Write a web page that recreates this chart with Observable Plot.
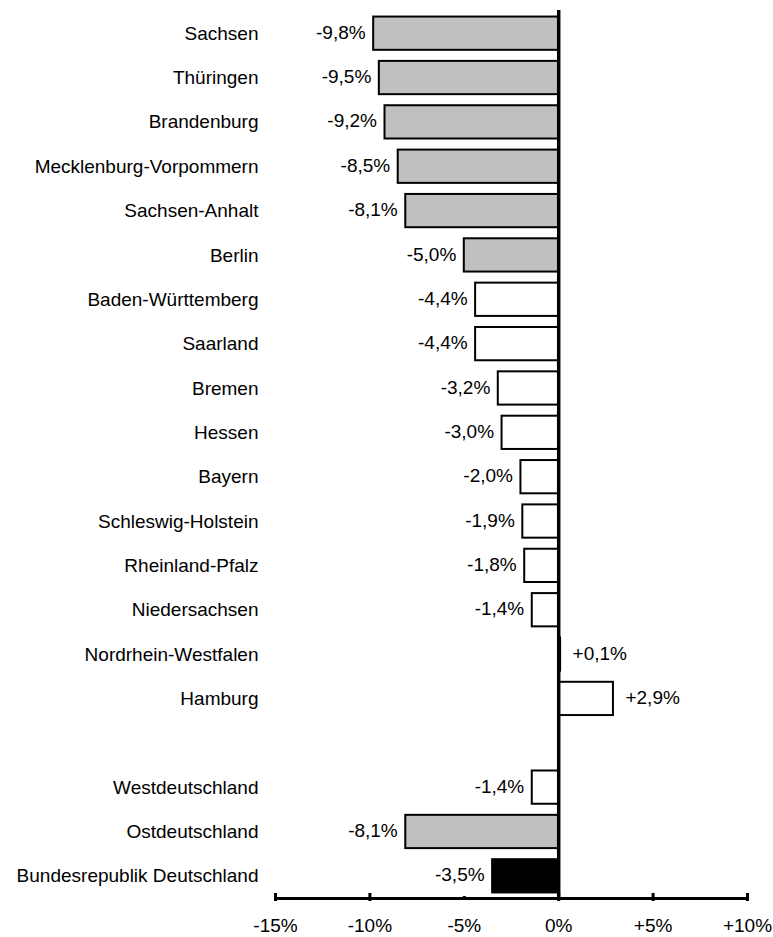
<!DOCTYPE html>
<html>
<head>
<meta charset="utf-8">
<script src="https://cdn.jsdelivr.net/npm/d3@7"></script>
<script src="https://cdn.jsdelivr.net/npm/@observablehq/plot@0.6"></script>
<style>
  html, body { margin: 0; padding: 0; background: #fff; }
  svg { display: block; }
</style>
</head>
<body>
<div id="chart"></div>
<script>
const regions = ["Sachsen", "Thüringen", "Brandenburg", "Mecklenburg-Vorpommern", "Sachsen-Anhalt", "Berlin",
  "Baden-Württemberg", "Saarland", "Bremen", "Hessen", "Bayern", "Schleswig-Holstein", "Rheinland-Pfalz",
  "Niedersachsen", "Nordrhein-Westfalen", "Hamburg", "", "Westdeutschland", "Ostdeutschland", "Bundesrepublik Deutschland"];
const values = [-9.8, -9.5, -9.2, -8.5, -8.1, -5.0, -4.4, -4.4, -3.2, -3.0, -2.0, -1.9, -1.8, -1.4, 0.1, 2.9, null, -1.4, -8.1, -3.5];
const groups = ["Ost", "Ost", "Ost", "Ost", "Ost", "Ost", "West", "West", "West", "West", "West", "West", "West",
  "West", "West", "West", null, "West", "Ost", "Bund"];
const tickValues = [-15, -10, -5, 0, 5, 10];
const tickLabels = ["-15%", "-10%", "-5%", "0%", "+5%", "+10%"];

const GAP = " ";
const domain = regions.map(r => r === "" ? GAP : r);
const data = regions.map((r, i) => ({name: domain[i], value: values[i], group: groups[i]}))
  .filter(d => d.value != null);
const neg = data.filter(d => d.value < 0);
const pos = data.filter(d => d.value >= 0);
const fmt = v => (v > 0 ? "+" : "") + v.toFixed(1).replace(".", ",") + "%";
const font = "'Liberation Sans', Arial, Helvetica, sans-serif";

const chart = Plot.plot({
  width: 773,
  height: 937,
  marginLeft: 275,
  marginRight: 26,
  marginTop: 11,
  marginBottom: 39,
  style: {fontFamily: font, fontSize: "19px", color: "#000", background: "#fff"},
  x: {domain: [-15, 10], label: null},
  y: {domain, paddingInner: 0.25, paddingOuter: 0.125, round: false, label: null},
  color: {domain: ["Ost", "West", "Bund"], range: ["#c0c0c0", "#ffffff", "#000000"]},
  marks: [
    Plot.barX(data, {x: "value", y: "name", fill: "group", stroke: "#000", strokeWidth: 2}),
    Plot.text(neg, {x: "value", y: "name", text: d => fmt(d.value), textAnchor: "end", dx: -8, dy: -1, fill: "#000", fontSize: 19}),
    Plot.text(pos, {x: "value", y: "name", text: d => fmt(d.value), textAnchor: "start", dx: 12, dy: -1, fill: "#000", fontSize: 19}),
    Plot.ruleX([0], {stroke: "#000", strokeWidth: 3.5, insetTop: -1}),
    Plot.frame({anchor: "bottom", stroke: "#000", strokeWidth: 3}),
    Plot.ruleX(tickValues.filter(t => t !== -5), {stroke: "#000", strokeWidth: 3, insetTop: 882, insetBottom: -3}),
    Plot.ruleX(tickValues.filter(t => t === -5), {stroke: "#000", strokeWidth: 3, insetTop: 885, insetBottom: -2}),
    Plot.axisX({ticks: tickValues, tickSize: 0, tickPadding: 20, tickFormat: (d, i) => tickLabels[i], fontSize: 19, fill: "#000", label: null}),
    Plot.axisY({tickSize: 0, tickPadding: 17, fontSize: 19, fill: "#000", label: null, tickFormat: d => d === GAP ? "" : d})
  ]
});
document.getElementById("chart").appendChild(chart);
</script>
</body>
</html>
